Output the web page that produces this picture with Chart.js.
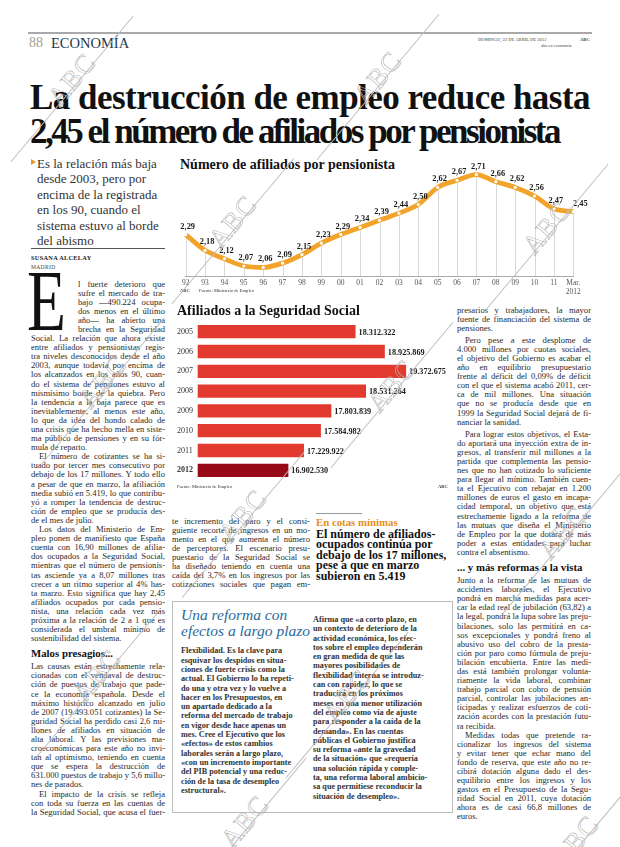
<!DOCTYPE html>
<html lang="es">
<head>
<meta charset="utf-8">
<script src="https://cdn.jsdelivr.net/npm/chart.js@4.4.1/dist/chart.umd.min.js"></script>
<style>
  body { margin: 0; width: 620px; height: 847px; background: #fff; position: relative; overflow: hidden;
         font-family: "Liberation Serif", serif; color: #222; }
  .a { position: absolute; white-space: nowrap; }
  .col { position: absolute; font-size: 8.6px; color: #2a2a2a; }
  .l { height: 9.1px; line-height: 9.1px; text-align: left; }
  .l.j { text-align: justify; text-align-last: justify; }
  .l.e { text-align-last: left; }
  .l.i { text-indent: 8px; }
  .l.cap { margin-left: 47px; }
  .l.g { margin-top: 3px; }
  .h { font-weight: bold; color: #111; white-space: nowrap; }
  .box .l { font-weight: bold; color: #333; font-size: 8.2px; height: 9.3px; line-height: 9.3px; }
  .wm { position: absolute; width: 0; height: 0; }
  .wm div { position: absolute; left: 0; top: 0; transform: translate(-50%, -50%) rotate(-50deg); }
  .wm .ln { width: 190px; border-top: 0.7px solid #bdbdbd; margin-top: 9px; }
  .wm .tx { font-size: 27px; color: transparent; -webkit-text-stroke: 0.6px #b5b5b5; letter-spacing: 1px; }
</style>
</head>
<body>

<!-- cabecera -->
<div class="a" style="left:28px;top:32px;width:564px;border-top:2px solid #a9a9a9;"></div>
<div class="a" style="left:29px;top:35px;font-size:14px;color:#a39f8f;">88</div>
<div class="a" style="left:51px;top:35px;font-size:14.5px;color:#1d3850;">ECONOMÍA</div>
<div class="a" style="left:478px;top:37px;font-size:4.6px;color:#444;">DOMINGO, 22 DE ABRIL DE 2012</div>
<div class="a" style="left:580px;top:37px;font-size:4.6px;color:#444;font-weight:bold;">ABC</div>
<div class="a" style="left:541px;top:43px;font-size:4.6px;color:#444;">abc.es/economia</div>

<!-- titular -->
<div class="a fit" data-w="560" style="left:30px;top:80px;font-size:35px;font-weight:bold;color:#111;line-height:36px;">La destrucción de empleo reduce hasta</div>
<div class="a fit" data-w="529" style="left:30px;top:114px;font-size:35px;font-weight:bold;color:#111;line-height:36px;">2,45 el número de afiliados por pensionista</div>

<!-- subtitulo -->
<div class="a" style="left:31px;top:159px;width:0;height:0;border-left:5px solid #e8962a;border-top:3.5px solid transparent;border-bottom:3.5px solid transparent;"></div>
<div class="a" style="left:37px;top:156px;font-size:13px;line-height:15.4px;color:#333;">
  Es la relación más baja<br>desde 2003, pero por<br>encima de la registrada<br>en los 90, cuando el<br>sistema estuvo al borde<br>del abismo
</div>
<div class="a" style="left:31px;top:248px;width:134px;border-top:1px solid #555;"></div>
<div class="a" style="left:31px;top:254px;font-size:6.3px;font-weight:bold;color:#222;letter-spacing:0.3px;">SUSANA ALCELAY</div>
<div class="a" style="left:31px;top:264px;font-size:5.6px;color:#444;letter-spacing:0.3px;">MADRID</div>
<div class="a" style="left:27px;top:258px;font-size:86px;line-height:86px;color:#111;transform:scaleX(0.74);transform-origin:left top;">E</div>

<!-- columnas -->
<div id="colL" class="col" style="left:31px;top:279.5px;width:134px;"></div>
<div id="colM" class="col" style="left:172px;top:516.5px;width:138px;"></div>
<div id="colR" class="col" style="left:457px;top:305.5px;width:134px;"></div>

<!-- en cotas minimas -->
<div class="a" style="left:316px;top:513px;width:46px;border-top:1.5px solid #999;"></div>
<div class="a" style="left:316px;top:516px;font-size:10.8px;font-weight:bold;color:#e58e1e;">En cotas mínimas</div>
<div class="a" style="left:316px;top:529px;font-size:12px;font-weight:bold;line-height:10.4px;color:#111;">
  El número de afiliados-<br>ocupados continúa por<br>debajo de los 17 millones,<br>pese a que en marzo<br>subieron en 5.419
</div>

<!-- recuadro -->
<div class="a" style="left:172px;top:601px;width:279px;height:210px;border:1px solid #bdbdbd;"></div>
<div class="a" style="left:181px;top:607px;font-size:15.5px;line-height:15.5px;font-style:italic;color:#2c6a9c;">Una reforma con<br>efectos a largo plazo</div>
<div id="boxL" class="col box" style="left:181px;top:646.4px;width:127px;"></div>
<div id="boxR" class="col box" style="left:313px;top:615px;width:136px;"></div>

<!-- graficos -->
<div class="a h" style="left:180px;top:157px;font-size:14px;">Número de afiliados por pensionista</div>
<canvas id="lineChart" width="425" height="150" style="position:absolute;left:170px;top:150px;"></canvas>
<div class="a" style="left:180px;top:288px;font-size:4.6px;color:#333;font-weight:bold;">ABC</div>
<div class="a" style="left:199px;top:288px;font-size:4.6px;color:#333;">Fuente: Ministerio de Empleo</div>

<div class="a h" style="left:177px;top:303px;font-size:14px;">Afiliados a la Seguridad Social</div>
<canvas id="barChart" width="285" height="190" style="position:absolute;left:170px;top:298px;"></canvas>
<div class="a" style="left:177px;top:484px;font-size:4.6px;color:#333;">Fuente: Ministerio de Empleo</div>
<div class="a" style="left:438px;top:484px;font-size:4.6px;color:#333;font-weight:bold;">ABC</div>

<div id="wms"></div>

<script>
// datos: afiliados por pensionista
const years = ['92', '93', '94', '95', '96', '97', '98', '99', '00', '01', '02', '03', '04', '05', '06', '07', '08', '09', '10', '11', ['Mar.', '2012']];
const ratio = [2.29, 2.18, 2.12, 2.07, 2.06, 2.09, 2.15, 2.23, 2.29, 2.34, 2.39, 2.44, 2.50, 2.62, 2.67, 2.71, 2.66, 2.62, 2.56, 2.47, 2.45];

// datos: afiliados a la Seguridad Social
const barYears = ['2005', '2006', '2007', '2008', '2009', '2010', '2011', '2012'];
const afiliados = [18312322, 18925869, 19372675, 18531264, 17803839, 17584982, 17229922, 16902530];

const textL = `
^l fuerte deterioro que
^sufre el mercado de tra-
^bajo —490.224 ocupa-
^dos menos en el último
^año— ha abierto una
^brecha en la Seguridad
Social. La relación que ahora existe
entre afiliados y pensionistas regis-
tra niveles desconocidos desde el año
2003, aunque todavía por encima de
los alcanzados en los años 90, cuan-
do el sistema de pensiones estuvo al
mismísimo borde de la quiebra. Pero
la tendencia a la baja parece que es
inevitablemente, al menos este año,
lo que da idea del hondo calado de
una crisis que ha hecho mella en siste-
ma público de pensiones y en su fór-
mula de reparto.*
_El número de cotizantes se ha si-
tuado por tercer mes consecutivo por
debajo de los 17 millones. Y todo ello
a pesar de que en marzo, la afiliación
media subió en 5.419, lo que contribu-
yó a romper la tendencia de destruc-
ción de empleo que se producía des-
de el mes de julio.*
_Los datos del Ministerio de Em-
pleo ponen de manifiesto que España
cuenta con 16,90 millones de afilia-
dos ocupados a la Seguridad Social,
mientras que el número de pensionis-
tas asciende ya a 8,07 millones tras
crecer a un ritmo superior al 4% has-
ta marzo. Esto significa que hay 2,45
afiliados ocupados por cada pensio-
nista, una relación cada vez más
próxima a la relación de 2 a 1 que es
considerada el umbral mínimo de
sostenibilidad del sistema.*
#Malos presagios...
Las causas están estrechamente rela-
cionadas con el vendaval de destruc-
ción de puestos de trabajo que pade-
ce la economía española. Desde el
máximo histórico alcanzado en julio
de 2007 (19.493.051 cotizantes) la Se-
guridad Social ha perdido casi 2,6 mi-
llones de afiliados en situación de
alta laboral. Y las previsiones ma-
croeconómicas para este año no invi-
tan al optimismo, teniendo en cuenta
que se espera la destrucción de
631.000 puestos de trabajo y 5,6 millo-
nes de parados.*
_El impacto de la crisis se refleja
con toda su fuerza en las cuentas de
la Seguridad Social, que acusa el fuer-`;

const textM = `
te incremento del paro y el consi-
guiente recorte de ingresos en un mo-
mento en el que aumenta el número
de perceptores. El escenario presu-
puestario de la Seguridad Social se
ha diseñado teniendo en cuenta una
caída del 3,7% en los ingresos por las
cotizaciones sociales que pagan em-`;

const textR = `
presarios y trabajadores, la mayor
fuente de financiación del sistema de
pensiones.*
+_Pero pese a este desplome de
4.000 millones por cuotas sociales,
el objetivo del Gobierno es acabar el
año en equilibrio presupuestario
frente al déficit del 0,09% de déficit
con el que el sistema acabó 2011, cer-
ca de mil millones. Una situación
que no se producía desde que en
1999 la Seguridad Social dejará de fi-
nanciar la sanidad.*
+_Para lograr estos objetivos, el Esta-
do aportará una inyección extra de in-
gresos, al transferir mil millones a la
partida que complementa las pensio-
nes que no han cotizado lo suficiente
para llegar al mínimo. También cuen-
ta el Ejecutivo con rebajar en 1.200
millones de euros el gasto en incapa-
cidad temporal, un objetivo que está
estrechamente ligado a la reforma de
las mutuas que diseña el Ministerio
de Empleo por la que dotará de más
poder a estas entidades para luchar
contra el absentismo.*
#... y más reformas a la vista
Junto a la reforma de las mutuas de
accidentes laborales, el Ejecutivo
pondrá en marcha medidas para acer-
car la edad real de jubilación (63,82) a
la legal, pondrá la lupa sobre las preju-
bilaciones, solo las permitirá en ca-
sos excepcionales y pondrá freno al
abusivo uso del cobro de la presta-
ción por paro como fórmula de preju-
bilación encubierta. Entre las medi-
das está también prolongar volunta-
riamente la vida laboral, combinar
trabajo parcial con cobro de pensión
parcial, controlar las jubilaciones an-
ticipadas y realizar esfuerzos de coti-
zación acordes con la prestación futu-
ra recibida.*
_Medidas todas que pretende ra-
cionalizar los ingresos del sistema
y evitar tener que echar mano del
fondo de reserva, que este año no re-
cibirá dotación alguna dado el des-
equilibrio entre los ingresos y los
gastos en el Presupuesto de la Segu-
ridad Social en 2011, cuya dotación
ahora es de casi 66,8 millones de
euros.*`;

const textBoxL = `
Flexibilidad. Es la clave para
esquivar los despidos en situa-
ciones de fuerte crisis como la
actual. El Gobierno lo ha repeti-
do una y otra vez y lo vuelve a
hacer en los Presupuestos, en
un apartado dedicado a la
reforma del mercado de trabajo
en vigor desde hace apenas un
mes. Cree el Ejecutivo que los
«efectos» de estos cambios
laborales serán a largo plazo,
«con un incremento importante
del PIB potencial y una reduc-
ción de la tasa de desempleo
estructural».`;

const textBoxR = `
Afirma que «a corto plazo, en
un contexto de deterioro de la
actividad económica, los efec-
tos sobre el empleo dependerán
en gran medida de que las
mayores posibilidades de
flexibilidad interna se introduz-
can con rapidez, lo que se
traducirá en los próximos
meses en una menor utilización
del empleo como vía de ajuste
para responder a la caída de la
demanda». En las cuentas
públicas el Gobierno justifica
su reforma «ante la gravedad
de la situación» que «requería
una solución rápida y comple-
ta, una reforma laboral ambicio-
sa que permitiese reconducir la
situación de desempleo».`;

function buildCol(id, text, justify) {
  const col = document.getElementById(id);
  text.trim().split('\n').forEach(raw => {
    let s = raw.trim();
    const d = document.createElement('div');
    d.className = 'l';
    if (s.startsWith('#')) {
      d.className = 'h';
      d.textContent = s.slice(1);
      d.style.cssText = 'font-size:10.8px;height:19px;line-height:21px;';
      col.appendChild(d);
      return;
    }
    if (s.startsWith('+')) { d.classList.add('g'); s = s.slice(1); }
    if (s.startsWith('^')) { d.classList.add('cap'); s = s.slice(1); }
    if (s.startsWith('_')) { d.classList.add('i'); s = s.slice(1); }
    let last = !justify;
    if (s.endsWith('*')) { last = true; s = s.slice(0, -1); }
    d.textContent = s;
    col.appendChild(d);
    // comprimir las lineas que no caben
    d.style.whiteSpace = 'nowrap';
    const r = document.createRange();
    r.selectNodeContents(d);
    const w = r.getBoundingClientRect().width;
    const avail = d.clientWidth - (d.classList.contains('i') ? 8 : 0);
    if (w > avail - 0.5) d.style.letterSpacing = ((avail - 0.8 - w) / s.length) + 'px';
    d.style.whiteSpace = '';
    if (justify) d.classList.add(last ? 'e' : 'j');
  });
}

buildCol('colL', textL, true);
buildCol('colM', textM, true);
buildCol('colR', textR, true);
buildCol('boxL', textBoxL, false);
buildCol('boxR', textBoxR, false);

document.querySelectorAll('.fit').forEach(el => {
  const w = el.getBoundingClientRect().width;
  const n = el.textContent.length;
  el.style.letterSpacing = ((+el.dataset.w - w) / n) + 'px';
});

// marcas de agua
const wmPos = [[72, 80], [378, 78], [233, 222], [547, 228], [103, 382], [392, 386], [243, 516], [563, 533], [97, 676], [347, 696], [245, 822], [575, 842]];
const wms = document.getElementById('wms');
wmPos.forEach(([x, y]) => {
  const w = document.createElement('div');
  w.className = 'wm';
  w.style.left = x + 'px';
  w.style.top = y + 'px';
  w.innerHTML = '<div class="ln"></div><div class="tx">ABC</div>';
  wms.appendChild(w);
});

const serif = 'Liberation Serif';
const comma = v => v.toFixed(2).replace('.', ',');
const dots = v => String(v).replace(/\B(?=(\d{3})+(?!\d))/g, '.');

const dropLines = {
  id: 'dropLines',
  beforeDatasetsDraw(chart) {
    const { ctx, chartArea } = chart;
    const pts = chart.getDatasetMeta(0).data;
    ctx.save();
    ctx.strokeStyle = '#cfcfcf';
    ctx.lineWidth = 0.8;
    pts.forEach(p => {
      ctx.beginPath();
      ctx.moveTo(Math.round(p.x) + 0.5, chartArea.bottom);
      ctx.lineTo(Math.round(p.x) + 0.5, p.y);
      ctx.stroke();
    });
    ctx.restore();
  }
};

const pointLabels = {
  id: 'pointLabels',
  afterDatasetsDraw(chart) {
    const { ctx } = chart;
    const pts = chart.getDatasetMeta(0).data;
    ctx.save();
    ctx.font = 'bold 8.4px ' + serif;
    ctx.fillStyle = '#1a1a1a';
    ctx.textAlign = 'center';
    ctx.textBaseline = 'bottom';
    pts.forEach((p, i) => {
      const dx = i === pts.length - 1 ? 7 : 2;
      ctx.fillText(comma(ratio[i]), p.x + dx, p.y - 4);
    });
    ctx.restore();
  }
};

new Chart(document.getElementById('lineChart'), {
  type: 'line',
  data: {
    labels: years,
    datasets: [{
      data: ratio,
      borderColor: '#f2a42a',
      borderWidth: 4.8,
      tension: 0.4,
      cubicInterpolationMode: 'monotone',
      pointRadius: 1.6,
      pointBackgroundColor: '#fff',
      pointBorderWidth: 0,
      fill: false
    }]
  },
  options: {
    responsive: false,
    animation: false,
    events: [],
    layout: { padding: { left: 15.7, right: 21.7, top: 11.7, bottom: 0 } },
    plugins: { legend: { display: false }, tooltip: { enabled: false } },
    scales: {
      x: {
        grid: { display: false, drawTicks: false },
        border: { color: '#aaa' },
        ticks: { font: { family: serif, size: 7.5 }, color: '#555', padding: 3, maxRotation: 0, autoSkip: false },
        afterFit(s) { s.height = 24; }
      },
      y: { display: false, min: 2, max: 2.8 }
    }
  },
  plugins: [dropLines, pointLabels]
});

const barLabels = {
  id: 'barLabels',
  afterDatasetsDraw(chart) {
    const { ctx } = chart;
    ctx.save();
    ctx.font = 'bold 8.2px ' + serif;
    ctx.fillStyle = '#1a1a1a';
    ctx.textBaseline = 'middle';
    chart.getDatasetMeta(0).data.forEach((bar, i) => {
      ctx.fillText(dots(afiliados[i]), bar.x + 3, bar.y + 1);
    });
    ctx.restore();
  }
};

new Chart(document.getElementById('barChart'), {
  type: 'bar',
  data: {
    labels: barYears,
    datasets: [{
      data: afiliados,
      backgroundColor: barYears.map(y => y === '2012' ? '#980b16' : '#e23a2e'),
      barPercentage: 0.67,
      categoryPercentage: 1
    }]
  },
  options: {
    indexAxis: 'y',
    responsive: false,
    animation: false,
    events: [],
    layout: { padding: { left: 7, right: 19, top: 23.8, bottom: 7.4 } },
    plugins: { legend: { display: false }, tooltip: { enabled: false } },
    scales: {
      x: { display: false, min: 15000000, max: 20000000 },
      y: {
        grid: { display: false, drawTicks: false },
        border: { display: false },
        ticks: {
          crossAlign: 'far',
          color: '#333',
          font: c => ({ family: serif, size: 8, weight: c.index === 7 ? 'bold' : 'normal' })
        },
        afterFit(s) { s.width = 20.7; }
      }
    }
  },
  plugins: [barLabels]
});
</script>
</body>
</html>
